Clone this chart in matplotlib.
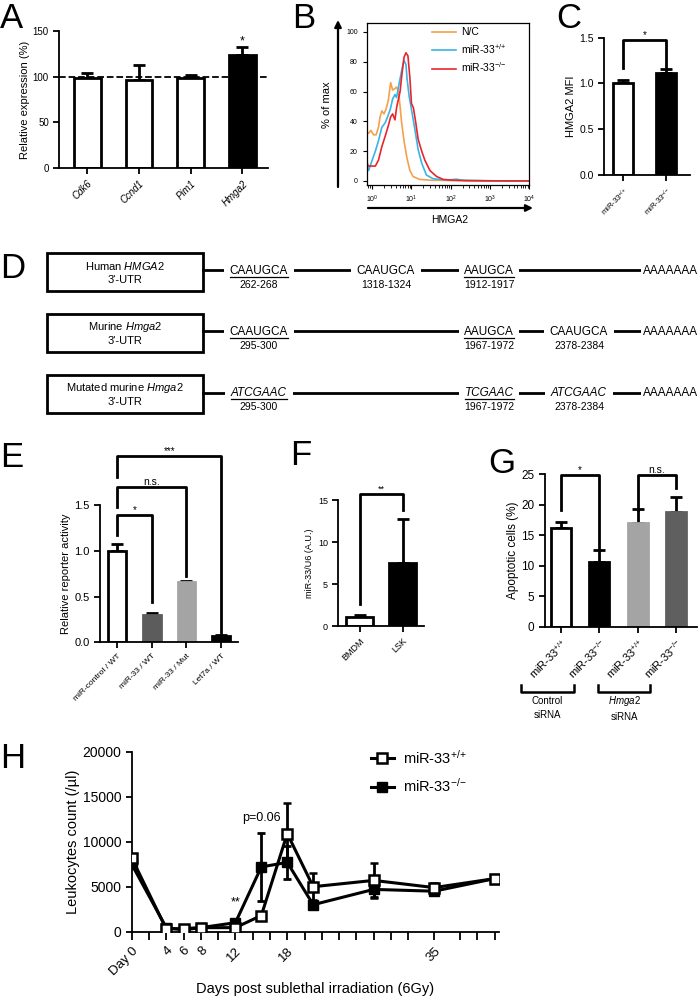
import numpy as np
import matplotlib
matplotlib.use("Agg")
import matplotlib.pyplot as plt
from matplotlib.patches import Rectangle
from matplotlib.lines import Line2D

plt.rcParams['font.family'] = ['Liberation Sans', 'DejaVu Sans']
plt.rcParams['mathtext.fontset'] = 'custom'
plt.rcParams['mathtext.rm'] = 'Liberation Sans'
plt.rcParams['mathtext.it'] = 'Liberation Sans:italic'
plt.rcParams['mathtext.bf'] = 'Liberation Sans:bold'
plt.rcParams['axes.linewidth'] = 1.3
plt.rcParams['xtick.major.width'] = 1.3
plt.rcParams['ytick.major.width'] = 1.3

WT = "miR-33$^{{+}/{+}}$"
KO = "miR-33$^{{-}/{-}}$"

# A: qPCR of target genes
a_genes = ["Cdk6", "Ccnd1", "Pim1", "Hmga2"]
a_mean = [98, 96, 98, 124]
a_err = [6, 17, 4, 8]
a_colors = ["white", "white", "white", "black"]

# B: flow histograms, x = log10(HMGA2), y = % of max
b_nc_x = [-0.14, -0.13, -0.09, -0.03, 0.03, 0.10, 0.16, 0.20, 0.245, 0.30, 0.35, 0.41, 0.47, 0.52,
          0.58, 0.62, 0.67, 0.71, 0.75, 0.81, 0.88, 0.96, 1.04, 1.21, 1.5, 2.0, 2.6, 3.2, 4.0]
b_nc_y = [100, 33, 32, 34, 31, 31, 36, 43, 47, 45, 48, 54, 66, 61,
          62, 63, 60, 50, 39, 27, 16, 7, 3, 1, 0.5, 0.3, 0.2, 0.1, 0]
b_wt_x = [-0.14, -0.12, -0.09, 0.0, 0.08, 0.16, 0.245, 0.33, 0.39, 0.46, 0.52, 0.58, 0.62, 0.69, 0.75,
          0.81, 0.86, 0.89, 0.94, 1.0, 1.09, 1.17, 1.26, 1.38, 1.55, 1.81, 2.0, 2.14, 2.3, 2.6, 3.0, 4.0]
b_wt_y = [20, 10, 7, 14, 20, 27, 36, 39, 43, 48, 55, 58, 56, 66, 74,
          81, 78, 68, 57, 48, 34, 21, 12, 4, 1.5, 0.8, 0.8, 1.2, 0.5, 0.3, 0.1, 0]
b_ko_x = [-0.14, -0.12, -0.09, 0.0, 0.08, 0.16, 0.245, 0.33, 0.41, 0.47, 0.52, 0.58, 0.62, 0.66, 0.71,
          0.75, 0.81, 0.86, 0.91, 0.96, 1.0, 1.05, 1.11, 1.17, 1.26, 1.34, 1.47, 1.64, 1.81, 2.06,
          2.4, 3.0, 4.0]
b_ko_y = [14, 11, 10, 10, 10, 14, 23, 30, 37, 43, 45, 41, 49, 54, 60,
          70, 83, 86, 84, 69, 52, 49, 39, 28, 20, 14, 7, 3, 1, 0.5,
          0.2, 0.1, 0]
b_labels = ["N/C", WT, KO]
b_colors = ["#F5A04A", "#3AB4E6", "#E8262D"]

# C: HMGA2 MFI
c_groups = [WT, KO]
c_mean = [1.0, 1.11]
c_err = [0.04, 0.045]

# D: 3'-UTR schematic
d_box_top = ["Human $\\mathit{HMGA2}$", "Murine $\\mathit{Hmga2}$", "Mutated murine $\\mathit{Hmga2}$"]
d_sites = [
    [("CAAUGCA", "262-268", 0, True, False), ("CAAUGCA", "1318-1324", 1, False, False),
     ("AAUGCA", "1912-1917", 2, True, False)],
    [("CAAUGCA", "295-300", 0, True, False), ("AAUGCA", "1967-1972", 2, True, False),
     ("CAAUGCA", "2378-2384", 3, False, False)],
    [("ATCGAAC", "295-300", 0, True, True), ("TCGAAC", "1967-1972", 2, True, True),
     ("ATCGAAC", "2378-2384", 3, False, True)],
]
d_tail = "AAAAAAA"

# E: luciferase reporter
e_labels = ["miR-control / WT", "miR-33 / WT", "miR-33 / Mut", "Let7a / WT"]
e_mean = [1.0, 0.30, 0.66, 0.065]
e_err = [0.07, 0.02, 0.015, 0.02]
e_colors = ["white", "#5c5c5c", "#a4a4a4", "black"]

# F: miR-33 expression
f_labels = ["BMDM", "LSK"]
f_mean = [1.05, 7.5]
f_err = [0.3, 5.2]

# G: apoptosis
g_labels = [WT, KO, WT, KO]
g_mean = [16.1, 10.6, 17.0, 18.7]
g_err = [1.1, 1.9, 2.2, 2.6]
g_colors = ["white", "black", "#a4a4a4", "#5f5f5f"]

# H: leukocyte recovery
h_days = [0, 4, 6, 8, 12, 15, 18, 21, 28, 35, 42]
h_wt = [8200, 300, 350, 450, 450, 1800, 10900, 5000, 5700, 4900, 5900]
h_wt_err = [400, 150, 150, 150, 150, 400, 3400, 1500, 1900, 500, 400]
h_ko = [7500, 450, 200, 450, 1000, 7200, 7700, 3000, 4700, 4500, 5900]
h_ko_err = [400, 150, 100, 150, 300, 3800, 1800, 350, 800, 300, 300]
h_tick_days = [0, 4, 6, 8, 12, 18, 35]
h_tick_labels = ["Day 0", "4", "6", "8", "12", "18", "35"]

W, H = 700, 997
fig = plt.figure(figsize=(W / 100, H / 100), dpi=100)

# full-figure overlay for schematic, arrows, letters
ov = fig.add_axes([0, 0, 1, 1])
ov.set_xlim(0, W)
ov.set_ylim(H, 0)
ov.axis("off")


def px_axes(left, top, right, bottom):
    return fig.add_axes([left / W, 1 - bottom / H, (right - left) / W, (bottom - top) / H])


def prism(ax, fs):
    ax.spines["top"].set_visible(False)
    ax.spines["right"].set_visible(False)
    ax.tick_params(direction="out", length=4, labelsize=fs)


def bracket(ax, x0, x1, y0, ytop, y1, label, fs):
    ax.plot([x0, x0, x1, x1], [y0, ytop, ytop, y1], color="black", lw=2, clip_on=False)
    ax.text((x0 + x1) / 2, ytop, label, ha="center", va="bottom", fontsize=fs, clip_on=False)


for lab, x, y in [("A", 0, 28), ("B", 292, 28), ("C", 556, 28), ("D", 0, 278),
                  ("E", 0, 467), ("F", 290, 465), ("G", 488, 473), ("H", 0, 768)]:
    ov.text(x, y, lab, fontsize=25, va="baseline", ha="left")

# ---- A ----
ax = px_axes(59.3, 30.7, 268.3, 168.3)
x = np.arange(len(a_genes))
ax.axhline(100, ls="--", color="black", lw=1.3, zorder=0)
ax.bar(x, a_mean, width=0.52, color=a_colors, edgecolor="black", linewidth=2, zorder=2)
ax.errorbar(x, a_mean, yerr=[np.zeros(4), a_err], fmt="none", ecolor="black",
            elinewidth=2, capsize=4, capthick=2, zorder=1)
ax.text(x[3], a_mean[3] + a_err[3] + 3, "*", ha="center", fontsize=9)
ax.set_xlim(-0.54, 3.5)
ax.set_ylim(0, 150)
ax.set_yticks([0, 50, 100, 150])
ax.set_xticks(x)
ax.set_xticklabels(a_genes, rotation=45, ha="right", rotation_mode="anchor", style="italic", fontsize=7)
ax.set_ylabel("Relative expression (%)", fontsize=8, labelpad=2)
prism(ax, 7)
ax.tick_params(axis="x", labelsize=7)

# ---- B ----
ax = px_axes(366.7, 23.3, 529.3, 185)
for xs, ys, c, lab in zip([b_nc_x, b_wt_x, b_ko_x], [b_nc_y, b_wt_y, b_ko_y], b_colors, b_labels):
    ax.plot(10 ** np.array(xs), ys, color=c, lw=1.2, label=lab)
ax.set_xscale("log")
ax.set_xlim(10 ** -0.14, 10 ** 4)
ax.set_ylim(-2.7, 105.8)
ax.set_yticks(range(0, 101, 20))
ax.set_xticks([1, 10, 100, 1000, 10000])
ax.set_xticklabels(["$10^{%d}$" % i for i in range(5)])
ax.tick_params(labelsize=5, length=3, width=0.8)
ax.tick_params(which="minor", length=2, width=0.6)
for s in ax.spines.values():
    s.set_linewidth(0.9)
ax.legend(loc="upper left", bbox_to_anchor=(0.40, 0.975), frameon=False, fontsize=7.5,
          handlelength=2.3, handletextpad=0.5, labelspacing=0.45, borderpad=0, borderaxespad=0)
ov.annotate("", xy=(338, 20), xytext=(338, 187), arrowprops=dict(arrowstyle="-|>", lw=1.6,
            color="black", mutation_scale=10, shrinkA=0, shrinkB=0))
ov.annotate("", xy=(533, 208), xytext=(368, 208), arrowprops=dict(arrowstyle="-|>", lw=1.6,
            color="black", mutation_scale=10, shrinkA=0, shrinkB=0))
ov.text(327, 105, "% of max", rotation=90, ha="center", va="center", fontsize=8)
ov.text(450, 220, "HMGA2", ha="center", va="center", fontsize=7.5)

# ---- C ----
ax = px_axes(604, 37.7, 690, 175)
x = np.arange(2)
ax.bar(x, c_mean, width=0.47, color=["white", "black"], edgecolor="black", linewidth=2, zorder=2)
ax.errorbar(x, c_mean, yerr=[np.zeros(2), c_err], fmt="none", ecolor="black",
            elinewidth=2, capsize=4, capthick=2, zorder=1)
bracket(ax, 0, 1, 1.17, 1.47, 1.18, "*", 7)
ax.set_xlim(-0.44, 1.55)
ax.set_ylim(0, 1.5)
ax.set_yticks([0, 0.5, 1.0, 1.5])
ax.set_yticklabels(["0.0", "0.5", "1.0", "1.5"])
ax.set_xticks(x)
ax.set_xticklabels(c_groups, rotation=45, ha="right", rotation_mode="anchor")
ax.set_ylabel("HMGA2 MFI", fontsize=8, labelpad=2)
prism(ax, 7.5)
ax.tick_params(axis="x", labelsize=5.5)

# ---- D ----
col_x = [259, 386, 489, 579]
row_c = [272, 333, 394]
texts = []
for r, (cy, name, sites) in enumerate(zip(row_c, d_box_top, d_sites)):
    ov.add_patch(Rectangle((47, cy - 19), 156, 38, fill=False, lw=2, color="black"))
    ov.text(125, cy - 6.5, name, ha="center", va="center", fontsize=8)
    ov.text(125, cy + 7.5, "3'-UTR", ha="center", va="center", fontsize=8)
    ly = cy - 1.5
    ov.plot([203, 641], [ly, ly], color="black", lw=2, zorder=1)
    for seq, num, col, ul, it in sites:
        t = ov.text(col_x[col], ly, seq, ha="center", va="center", fontsize=8.5,
                    style="italic" if it else "normal", zorder=2,
                    bbox=dict(facecolor="white", edgecolor="none", pad=4))
        ov.text(col_x[col], ly + 14.5, num, ha="center", va="center", fontsize=7.5, zorder=3)
        if ul:
            texts.append((t, ly))
    ov.text(671, ly, d_tail, ha="center", va="center", fontsize=8.5, zorder=2,
            bbox=dict(facecolor="white", edgecolor="none", pad=2))

# ---- E ----
ax = px_axes(100, 505, 238.3, 642.3)
x = np.arange(4)
ax.bar(x, e_mean, width=0.51, color=e_colors, edgecolor=["black", e_colors[1], e_colors[2], "black"],
       linewidth=2, zorder=2)
ax.errorbar(x, e_mean, yerr=[np.zeros(4), e_err], fmt="none", ecolor="black",
            elinewidth=2, capsize=4, capthick=2, zorder=1)
bracket(ax, 0, 1, 1.17, 1.39, 0.44, "*", 7)
bracket(ax, 0, 2, 1.48, 1.70, 0.72, "n.s.", 7.5)
bracket(ax, 0, 3, 1.81, 2.03, 0.10, "***", 7)
ax.set_xlim(-0.5, 3.5)
ax.set_ylim(0, 1.5)
ax.set_yticks([0, 0.5, 1.0, 1.5])
ax.set_yticklabels(["0.0", "0.5", "1.0", "1.5"])
ax.set_xticks(x)
ax.set_xticklabels(e_labels, rotation=45, ha="right", rotation_mode="anchor")
ax.set_ylabel("Relative reporter activity", fontsize=8, labelpad=2)
prism(ax, 8)
ax.tick_params(axis="x", labelsize=6)

# ---- F ----
ax = px_axes(338.3, 500, 424, 626)
x = np.arange(2)
ax.bar(x, f_mean, width=0.62, color=["white", "black"], edgecolor="black", linewidth=2, zorder=2)
ax.errorbar(x, f_mean, yerr=[np.zeros(2), f_err], fmt="none", ecolor="black",
            elinewidth=2, capsize=4, capthick=2, zorder=1)
bracket(ax, 0, 1, 2.6, 15.7, 13.8, "**", 6.5)
ax.set_xlim(-0.5, 1.5)
ax.set_ylim(0, 15)
ax.set_yticks([0, 5, 10, 15])
ax.set_xticks(x)
ax.set_xticklabels(f_labels, rotation=45, ha="right", rotation_mode="anchor")
ax.set_ylabel("miR-33/U6 (A.U.)", fontsize=6.5, labelpad=3)
prism(ax, 6.5)

# ---- G ----
ax = px_axes(545, 474, 696.7, 626.7)
x = np.arange(4)
ax.bar(x, g_mean, width=0.52, color=g_colors,
       edgecolor=["black", "black", g_colors[2], g_colors[3]], linewidth=2, zorder=2)
ax.errorbar(x, g_mean, yerr=[np.zeros(4), g_err], fmt="none", ecolor="black",
            elinewidth=2, capsize=4, capthick=2, zorder=1)
bracket(ax, 0, 1, 19.1, 24.9, 12.8, "*", 7)
bracket(ax, 2, 3, 19.1, 24.9, 22.7, "n.s.", 7.5)
ax.set_xlim(-0.42, 3.54)
ax.set_ylim(0, 25)
ax.set_yticks(range(0, 26, 5))
ax.set_xticks(x)
ax.set_xticklabels(g_labels, rotation=45, ha="right", rotation_mode="anchor")
ax.set_ylabel("Apoptotic cells (%)", fontsize=8.5, labelpad=2)
prism(ax, 8.5)
ax.tick_params(axis="x", labelsize=8)
for x0, x1, lab in [(521, 574, "Control\nsiRNA"), (598, 650, "$\\mathit{Hmga2}$\nsiRNA")]:
    ov.plot([x0, x0, x1, x1], [685, 691.5, 691.5, 685], color="black", lw=1.8)
    ov.text((x0 + x1) / 2, 708, lab, ha="center", va="center", fontsize=7, linespacing=1.4)

# ---- H ----
ax = px_axes(131.7, 751.7, 499, 931.7)
ax.errorbar(h_days, h_ko, yerr=h_ko_err, color="black", lw=2.2, marker="s", ms=7,
            mfc="black", mec="black", elinewidth=2, capsize=3, capthick=2, zorder=3)
ax.errorbar(h_days, h_wt, yerr=h_wt_err, color="black", lw=2.2, marker="s", ms=7,
            mfc="white", mec="black", mew=1.8, elinewidth=2, capsize=3, capthick=2, zorder=4)
ax.text(15, 12000, "p=0.06", ha="center", va="bottom", fontsize=9)
ax.text(12, 3300, "**", ha="center", va="center", fontsize=9)
ax.set_xlim(0, 42.5)
ax.set_ylim(0, 20000)
ax.set_yticks(range(0, 20001, 5000))
ax.set_xticks(h_tick_days)
ax.set_xticklabels(h_tick_labels, rotation=45, ha="right", rotation_mode="anchor")
ax.set_xticks([d for d in range(0, 43, 2) if min(abs(d - t) for t in h_tick_days) > 1.5], minor=True)
ax.set_xlabel("Days post sublethal irradiation (6Gy)", fontsize=10.5, labelpad=3)
ax.set_ylabel("Leukocytes count (/µl)", fontsize=10.5, labelpad=2)
prism(ax, 10)
ax.tick_params(axis="x", labelsize=9.5)
ax.tick_params(which="both", axis="x", length=6, width=1.3)
handles = [Line2D([], [], color="black", lw=2.2, marker="s", ms=7, mfc="white", mec="black", mew=1.8),
           Line2D([], [], color="black", lw=2.2, marker="s", ms=7, mfc="black", mec="black")]
ax.legend(handles, [WT, KO], loc="upper left", bbox_to_anchor=(0.615, 1.09), frameon=False,
          fontsize=10.5, handlelength=1.6, handletextpad=0.6, labelspacing=0.7)

# underlines for seed sites
fig.canvas.draw()
rend = fig.canvas.get_renderer()
for t, ly in texts:
    bb = t.get_window_extent(rend)
    ov.plot([bb.x0, bb.x1], [ly + 6.5, ly + 6.5], color="black", lw=0.9, zorder=4)

fig.savefig("out.png", dpi=100)
